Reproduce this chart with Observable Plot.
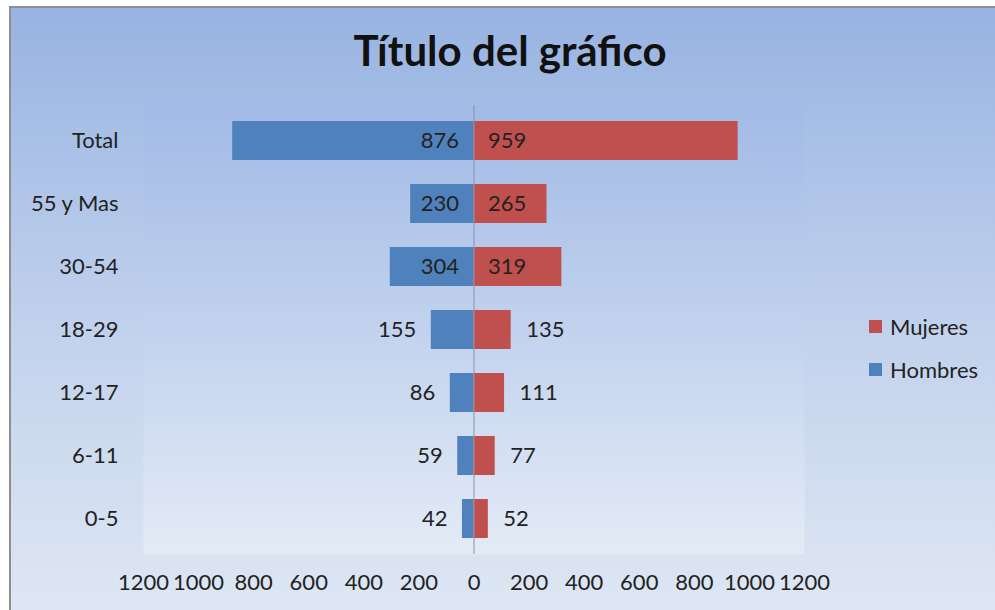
<!DOCTYPE html>
<html>
<head>
<meta charset="utf-8">
<script src="https://cdn.jsdelivr.net/npm/d3@7"></script>
<script src="https://cdn.jsdelivr.net/npm/@observablehq/plot@0.6"></script>
<style>
  html, body { margin: 0; padding: 0; background: #ffffff; }
  body { width: 995px; height: 610px; position: relative; overflow: hidden; font-family: Lato, "Open Sans", sans-serif; }
  #bg { position: absolute; left: 9px; top: 6px; width: 990px; height: 610px;
        border-left: 2px solid #8e8e8e; border-top: 2px solid #8e8e8e;
        background: linear-gradient(to bottom, #98b3e2 0%, #c3d3ed 55%, #dfe7f3 100%); }
  #title { position: absolute; left: 260px; top: 29px; width: 500px; text-align: center;
           font-size: 42px; line-height: 42px; font-weight: bold; color: #111; }
  #chart { position: absolute; left: 0; top: 95px; }
  #legend { position: absolute; left: 869px; top: 305px; font-size: 22px; color: #222; }
  #legend .row { height: 43px; display: flex; align-items: center; }
  #legend .sw { width: 13px; height: 13px; margin-right: 8px; display: inline-block; }
</style>
</head>
<body>
<div id="bg"></div>
<div id="title">Título del gráfico</div>
<div id="chart"></div>
<div id="legend"></div>
<script>
const categories = ["Total", "55 y Mas", "30-54", "18-29", "12-17", "6-11", "0-5"];
const hombres = [876, 230, 304, 155, 86, 59, 42];
const mujeres = [959, 265, 319, 135, 111, 77, 52];
const xTicks = [-1200, -1000, -800, -600, -400, -200, 0, 200, 400, 600, 800, 1000, 1200];
const seriesNames = ["Mujeres", "Hombres"];
const seriesColors = ["#c0504d", "#4f81bd"];

const rows = categories.map((c, i) => ({cat: c, h: hombres[i], m: mujeres[i]}));

const W = 850, H = 515, ML = 143, MR = 46, MT = 10, MB = 56;
const pxPerUnit = (W - ML - MR) / 2400;
const fits = v => v * pxPerUnit > 50;

const textStyle = {fill: "#222", fontSize: 22};

const plot = Plot.plot({
  width: W, height: H,
  marginLeft: ML, marginRight: MR, marginTop: MT, marginBottom: MB,
  style: {background: "transparent", fontFamily: "Lato, 'Open Sans', sans-serif", fontSize: "22px", color: "#222", overflow: "visible"},
  x: {domain: [-1200, 1200], ticks: xTicks, tickFormat: d => String(Math.abs(d)), tickSize: 0, tickPadding: 20, label: null},
  y: {domain: categories, paddingInner: 0.375, paddingOuter: 0.2, tickSize: 0, tickPadding: 25, label: null},
  marks: [
    Plot.frame({fill: "url(#plotAreaGrad)", stroke: "none"}),
    Plot.barX(rows, {y: "cat", x1: d => -d.h, x2: d => 0, fill: seriesColors[1]}),
    Plot.barX(rows, {y: "cat", x1: d => 0, x2: d => d.m, fill: seriesColors[0]}),
    Plot.text(rows.filter(d => fits(d.h)), {y: "cat", x: d => 0, text: d => String(d.h), textAnchor: "end", dx: -15, ...textStyle}),
    Plot.text(rows.filter(d => !fits(d.h)), {y: "cat", x: d => -d.h, text: d => String(d.h), textAnchor: "end", dx: -15, ...textStyle}),
    Plot.text(rows.filter(d => fits(d.m)), {y: "cat", x: d => 0, text: d => String(d.m), textAnchor: "start", dx: 14, ...textStyle}),
    Plot.text(rows.filter(d => !fits(d.m)), {y: "cat", x: d => d.m, text: d => String(d.m), textAnchor: "start", dx: 15, ...textStyle}),
    Plot.ruleX([0], {stroke: "#8a93a6", strokeWidth: 1})
  ]
});

// gradient definition for the plot area
const ns = "http://www.w3.org/2000/svg";
const defs = document.createElementNS(ns, "defs");
const grad = document.createElementNS(ns, "linearGradient");
grad.setAttribute("id", "plotAreaGrad");
grad.setAttribute("x1", "0"); grad.setAttribute("y1", "0");
grad.setAttribute("x2", "0"); grad.setAttribute("y2", "1");
[["0%", "#a2bae6"], ["50%", "#c2d2ee"], ["100%", "#e4ebf6"]].forEach(([o, c]) => {
  const s = document.createElementNS(ns, "stop");
  s.setAttribute("offset", o); s.setAttribute("stop-color", c);
  grad.appendChild(s);
});
defs.appendChild(grad);
plot.insertBefore(defs, plot.firstChild);

document.getElementById("chart").appendChild(plot);

const legend = document.getElementById("legend");
seriesNames.forEach((name, i) => {
  const row = document.createElement("div");
  row.className = "row";
  const sw = document.createElement("span");
  sw.className = "sw";
  sw.style.background = seriesColors[i];
  row.appendChild(sw);
  row.appendChild(document.createTextNode(name));
  legend.appendChild(row);
});
</script>
</body>
</html>
